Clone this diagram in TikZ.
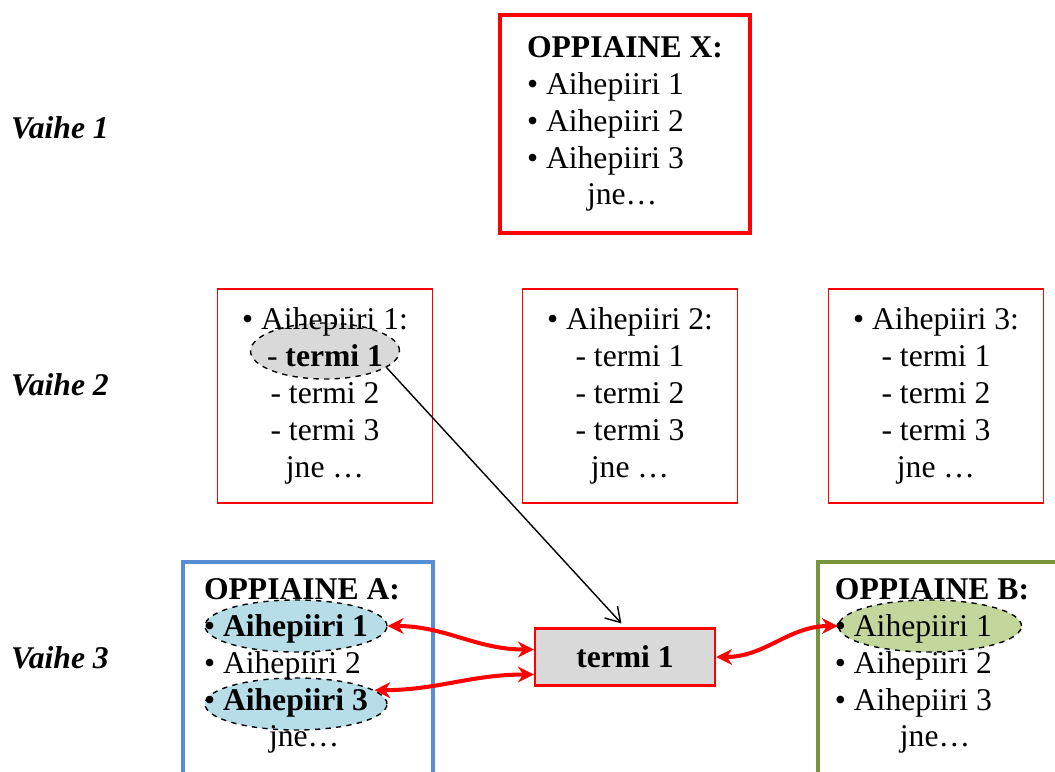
\documentclass[tikz,border=0pt]{standalone}
\usepackage{fontspec}
\setmainfont{Liberation Serif}
\usetikzlibrary{arrows.meta}
\usetikzlibrary{backgrounds}
\usetikzlibrary{shapes.geometric}
\definecolor{boxred}{HTML}{FF0000}
\definecolor{boxblue}{HTML}{558ED5}
\definecolor{boxolive}{HTML}{77933C}
\definecolor{ellblue}{HTML}{B7DEE8}
\definecolor{ellgreen}{HTML}{C3D69B}
\definecolor{ellgray}{HTML}{D9D9D9}

\begin{document}
\begin{tikzpicture}[
	x=0.02cm, y=-0.02cm,
	font=\fontsize{18}{21}\selectfont,
	stagelabel/.style={anchor=west, font=\fontsize{18}{21}\selectfont\bfseries\itshape},
	termbox/.style={draw=boxred, line width=1.1pt, minimum width=4.3cm, minimum height=4.28cm, align=center},
	subjbox/.style={line width=2.8pt, minimum width=5cm, minimum height=5.16cm},
	itemmark/.style={ellipse, draw=black, dashed, line width=0.8pt, inner sep=0pt},
	link/.style={draw=boxred, line width=2.3pt, {Stealth[length=9pt,width=9pt]}-{Stealth[length=9pt,width=9pt]}}
]
	\useasboundingbox (0,0) rectangle (1055,771);

	% Vaihe 1
	\node[stagelabel] (vaihe1) at (5,128) {Vaihe 1};
	\node[draw=boxred, line width=2.8pt, minimum width=5cm, minimum height=4.36cm, align=left]
		(subjX) at (625,124) {
			\textbf{OPPIAINE X:}\\
			• Aihepiiri 1\\
			• Aihepiiri 2\\
			• Aihepiiri 3\\
			\hspace*{1.2cm}jne\ldots
		};

	% Vaihe 2
	\node[stagelabel] (vaihe2) at (5,385) {Vaihe 2};
	\node[termbox] (topic1) at (325,396) {
			• Aihepiiri 1:\\
			- \textbf{termi 1}\\
			- termi 2\\
			- termi 3\\
			jne \ldots
		};
	\node[termbox] (topic2) at (630,396) {
			• Aihepiiri 2:\\
			- termi 1\\
			- termi 2\\
			- termi 3\\
			jne \ldots
		};
	\node[termbox] (topic3) at (936,396) {
			• Aihepiiri 3:\\
			- termi 1\\
			- termi 2\\
			- termi 3\\
			jne \ldots
		};

	% Vaihe 3
	\node[stagelabel] (vaihe3) at (5,658) {Vaihe 3};
	\node[subjbox, draw=boxblue] (boxA) at (308,691) {};
	\node[subjbox, draw=boxolive] (boxB) at (943,691) {};
	\node[align=left] (subjA) at (302,666) {
			\textbf{OPPIAINE A:}\\
			• \textbf{Aihepiiri 1}\\
			• Aihepiiri 2\\
			• \textbf{Aihepiiri 3}\\
			\hspace*{1.3cm}jne\ldots
		};
	\node[align=left] (subjB) at (932,666) {
			\textbf{OPPIAINE B:}\\
			• Aihepiiri 1\\
			• Aihepiiri 2\\
			• Aihepiiri 3\\
			\hspace*{1.3cm}jne\ldots
		};
	\node[draw=boxred, fill=ellgray, line width=1.4pt, minimum width=3.6cm, minimum height=1.14cm,
		font=\fontsize{18}{21}\selectfont\bfseries]
		(term) at (625,657) {termi 1};

	% highlighted items
	\begin{scope}[on background layer]
		\node[itemmark, fill=ellgray, minimum width=2.98cm, minimum height=1.12cm] (ellT) at (325,351) {};
		\node[itemmark, fill=ellblue, minimum width=3.64cm, minimum height=1.04cm] (ellA1) at (296,626) {};
		\node[itemmark, fill=ellblue, minimum width=3.64cm, minimum height=1.04cm] (ellA3) at (296,704) {};
		\node[itemmark, fill=ellgreen, minimum width=3.66cm, minimum height=1.04cm] (ellB1) at (930,626) {};
	\end{scope}

	\draw[-{Straight Barb[length=8pt,width=10pt]}, line width=0.8pt, shorten >=3pt]
		(ellT.-15) -- (term.north);

	\draw[link] (ellA1.east) to[out=0, in=180] ([yshift=0.15cm]term.west);
	\draw[link] (ellA3.10) to[out=0, in=180] ([yshift=-0.35cm]term.west);
	\draw[link] (term.east) to[out=0, in=180] (ellB1.west);
\end{tikzpicture}
\end{document}
